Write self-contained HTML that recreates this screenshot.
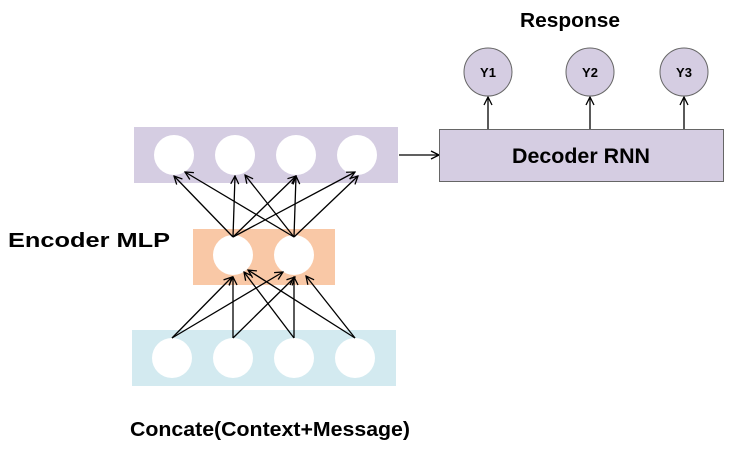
<!DOCTYPE html>
<html><head><style>body{margin:0;background:#fff}</style></head><body>
<svg width="747" height="446" xmlns="http://www.w3.org/2000/svg" font-family="Liberation Sans, sans-serif" font-weight="bold">
<defs><marker id="a" markerWidth="10" markerHeight="10" refX="9" refY="5" orient="auto" markerUnits="userSpaceOnUse"><path d="M1,1 L9,5 L1,9" fill="none" stroke="#000" stroke-width="1.3"/></marker></defs>
<rect x="134" y="127" width="264" height="56" fill="#d5cde2"/>
<rect x="193" y="229" width="142" height="56" fill="#f9c8a6"/>
<rect x="132" y="330" width="264" height="56" fill="#d3eaf0"/>
<g fill="#fff">
<circle cx="174" cy="155" r="20"/><circle cx="235" cy="155" r="20"/><circle cx="296" cy="155" r="20"/><circle cx="357" cy="155" r="20"/>
<circle cx="233" cy="255" r="20"/><circle cx="294" cy="255" r="20"/>
<circle cx="172" cy="358" r="20"/><circle cx="233" cy="358" r="20"/><circle cx="294" cy="358" r="20"/><circle cx="355" cy="358" r="20"/>
</g>
<g stroke="#000" stroke-width="1.3" marker-end="url(#a)">
<line x1="233" y1="237" x2="174" y2="176"/><line x1="233" y1="237" x2="235" y2="176"/><line x1="233" y1="237" x2="296" y2="176"/><line x1="233" y1="237" x2="355" y2="172"/>
<line x1="294" y1="237" x2="185" y2="172"/><line x1="294" y1="237" x2="245" y2="175"/><line x1="294" y1="237" x2="296" y2="176"/><line x1="294" y1="237" x2="358" y2="176"/>
<line x1="172" y1="338" x2="232" y2="277"/><line x1="172" y1="338" x2="283" y2="272"/>
<line x1="233" y1="338" x2="233" y2="277"/><line x1="233" y1="338" x2="295" y2="277"/>
<line x1="294" y1="338" x2="244" y2="272"/><line x1="294" y1="338" x2="294" y2="277"/>
<line x1="355" y1="338" x2="248" y2="270"/><line x1="355" y1="338" x2="306" y2="276"/>
<line x1="399" y1="155" x2="439" y2="155"/>
<line x1="488" y1="129" x2="488" y2="97"/><line x1="590" y1="129" x2="590" y2="97"/><line x1="684" y1="129" x2="684" y2="97"/>
</g>
<rect x="439.5" y="129.5" width="284" height="52" fill="#d5cde2" stroke="#666" stroke-width="1"/>
<text x="512" y="163" font-size="21" textLength="138" lengthAdjust="spacingAndGlyphs">Decoder RNN</text>
<g fill="#d5cde2" stroke="#666"><circle cx="488" cy="72" r="24"/><circle cx="590" cy="72" r="24"/><circle cx="684" cy="72" r="24"/></g>
<g font-size="13" text-anchor="middle"><text x="488" y="77">Y1</text><text x="590" y="77">Y2</text><text x="684" y="77">Y3</text></g>
<text x="520" y="27" font-size="20" textLength="100" lengthAdjust="spacingAndGlyphs">Response</text>
<text x="8" y="247" font-size="20" textLength="162" lengthAdjust="spacingAndGlyphs">Encoder MLP</text>
<text x="130" y="436" font-size="20" textLength="280" lengthAdjust="spacingAndGlyphs">Concate(Context+Message)</text>
</svg>
</body></html>
